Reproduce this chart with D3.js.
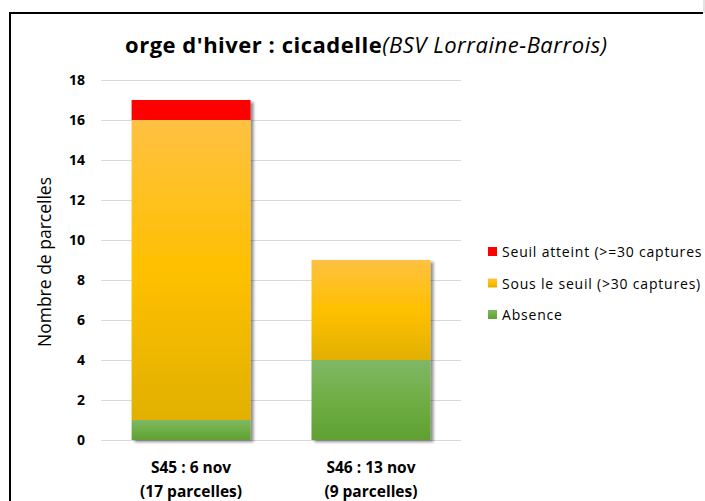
<!DOCTYPE html>
<html><head><meta charset="utf-8">
<script src="https://cdn.jsdelivr.net/npm/d3@7"></script>
<style>body{margin:0;background:#fff;}svg{display:block;}</style>
</head><body>
<svg id="c" width="705" height="501"></svg>
<script>
const categories = ["S45 : 6 nov|(17 parcelles)", "S46 : 13 nov|(9 parcelles)"];
const seriesNames = ["Absence", "Sous le seuil (>30 captures)", "Seuil atteint (>=30 captures"];
const absence = [1, 4];
const sousSeuil = [15, 5];
const seuilAtteint = [1, 0];
const yTicks = [0, 2, 4, 6, 8, 10, 12, 14, 16, 18];
const titleBold = "orge d'hiver : cicadelle";
const titleItalic = "(BSV Lorraine-Barrois)";
const yTitle = "Nombre de parcelles";

const FONT = "'Open Sans', sans-serif";
const svg = d3.select("#c");
const defs = svg.append("defs");

function grad(id, stops){
  const g = defs.append("linearGradient").attr("id", id).attr("x1",0).attr("y1",0).attr("x2",0).attr("y2",1);
  stops.forEach(s => g.append("stop").attr("offset", s[0]).attr("stop-color", s[1]));
}
grad("gY", [[0,"#ffc142"],[0.5,"#ffc000"],[1,"#e1b000"]]);
grad("gG", [[0,"#80b766"],[0.5,"#6fae44"],[1,"#5fa033"]]);
grad("gR", [[0,"#ff0000"],[1,"#ff0000"]]);
const f = defs.append("filter").attr("id","sh").attr("x","-10%").attr("y","-10%").attr("width","130%").attr("height","130%");
f.append("feGaussianBlur").attr("in","SourceAlpha").attr("stdDeviation",1.6);
f.append("feOffset").attr("dx",3).attr("dy",2).attr("result","b");
f.append("feComponentTransfer").append("feFuncA").attr("type","linear").attr("slope",0.45);
const m = f.append("feMerge"); m.append("feMergeNode"); m.append("feMergeNode").attr("in","SourceGraphic");

// frame
svg.append("path").attr("d","M10,501 L10,13 L703,13").attr("fill","none").attr("stroke","#000").attr("stroke-width",2);
svg.append("line").attr("x1",704).attr("x2",704).attr("y1",0).attr("y2",13).attr("stroke","#c8c8c8").attr("stroke-width",1);

const x = d3.scaleBand().domain(categories).range([101, 461]).paddingInner(0.339).paddingOuter(0.17);
const y = d3.scaleLinear().domain([0, 18]).range([440, 80]);

// gridlines
svg.append("g").selectAll("line").data(yTicks).join("line")
  .attr("x1", 101).attr("x2", 461).attr("y1", d => Math.round(y(d))+0.5).attr("y2", d => Math.round(y(d))+0.5)
  .attr("stroke", "#d9d9d9").attr("stroke-width", 1);

// y axis tick labels
const yAxis = d3.axisLeft(y).tickValues(yTicks).tickSize(0).tickPadding(0);
const ya = svg.append("g").attr("transform","translate(85,0)").call(yAxis);
ya.select(".domain").remove();
ya.selectAll("text").attr("font-family", FONT).attr("font-size", 14).attr("font-weight","bold").attr("fill","#000").attr("dy","0.35em");

// stacked bars
const keys = ["absence","sous","seuil"];
const rows = categories.map((c,i) => ({cat:c, absence:absence[i], sous:sousSeuil[i], seuil:seuilAtteint[i]}));
const stack = d3.stack().keys(keys)(rows);
const fills = {absence:"url(#gG)", sous:"url(#gY)", seuil:"url(#gR)"};

const gb = svg.append("g").attr("filter","url(#sh)");
stack.forEach(layer => {
  gb.append("g").selectAll("rect").data(layer.filter(d => d[1]-d[0] > 0)).join("rect")
    .attr("x", d => x(d.data.cat)).attr("width", x.bandwidth())
    .attr("y", d => y(d[1])).attr("height", d => y(d[0]) - y(d[1]))
    .attr("fill", fills[layer.key]);
});

// x axis labels
const xa = svg.append("g");
categories.forEach(c => {
  const parts = c.split("|");
  const cx = x(c) + x.bandwidth()/2;
  const t = xa.append("text").attr("text-anchor","middle")
    .attr("font-family", FONT).attr("font-size", 15.5).attr("font-weight","bold").attr("fill","#000");
  t.append("tspan").attr("x", cx).attr("y", 473).text(parts[0]);
  t.append("tspan").attr("x", cx).attr("y", 497).text(parts[1]);
});

// y title
svg.append("text").attr("transform","translate(51,262) rotate(-90)").attr("text-anchor","middle")
  .attr("font-family", FONT).attr("font-size", 17.5).attr("fill","#000").text(yTitle);

// title
const tt = svg.append("text").attr("x", 125).attr("y", 53).attr("font-family", FONT).attr("font-size", 22)
  .attr("textLength", 482).attr("lengthAdjust", "spacing").attr("fill","#000");
tt.append("tspan").attr("font-weight","bold").text(titleBold);
tt.append("tspan").attr("font-style","italic").text(titleItalic);

// legend
const legColors = ["#ff0000", "url(#gY)", "url(#gG)"];
const legNames = [seriesNames[2], seriesNames[1], seriesNames[0]];
const lg = svg.append("g");
legNames.forEach((n,i) => {
  const yy = 252 + i*31.5;
  lg.append("rect").attr("x", 488).attr("y", yy-5).attr("width", 9).attr("height", 9).attr("fill", legColors[i]);
  lg.append("text").attr("x", 502).attr("y", yy+5).attr("font-family", FONT).attr("font-size", 14)
    .attr("letter-spacing", "0.8px").attr("fill","#000").text(n);
});
</script>
</body></html>
